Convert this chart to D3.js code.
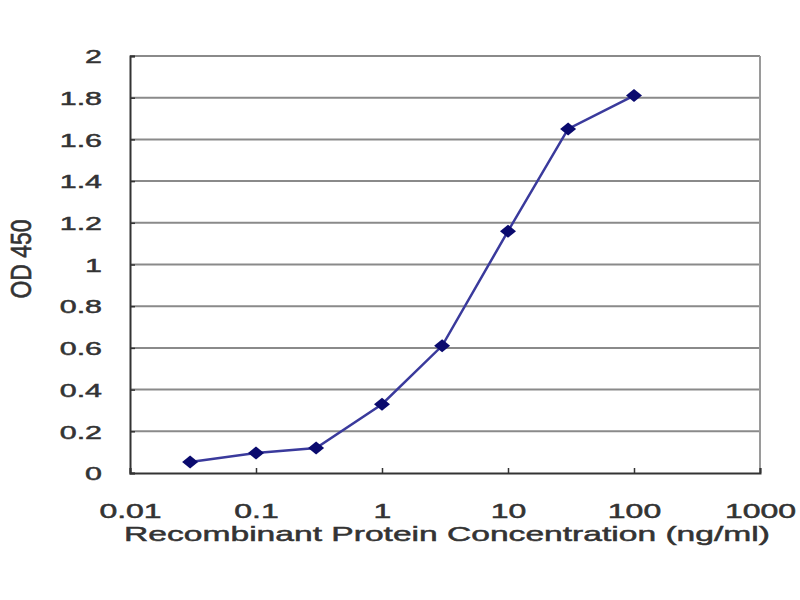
<!DOCTYPE html>
<html>
<head>
<meta charset="utf-8">
<script src="https://cdn.jsdelivr.net/npm/d3@7"></script>
<style>
  body { margin: 0; background: #fff; }
  text { font-family: "Liberation Sans", Arial, sans-serif; fill: #333; stroke: #333; stroke-width: 0.5px; }
</style>
</head>
<body>
<svg id="chart"></svg>
<script>
// concentrations (ng/ml) and OD readings
const concentrations = [0.03, 0.1, 0.3, 1, 3, 10, 30, 100];
const odValues = [0.053, 0.096, 0.12, 0.33, 0.61, 1.16, 1.65, 1.81];
const xTicks = [0.01, 0.1, 1, 10, 100, 1000];
const yTicks = [0, 0.2, 0.4, 0.6, 0.8, 1, 1.2, 1.4, 1.6, 1.8, 2];

const width = 800, height = 600;
const margin = { top: 56, right: 40, bottom: 127, left: 130 };
const stretch = 1.6; // picture is squashed wide, text too

const svg = d3.select('#chart')
    .attr('width', width)
    .attr('height', height);

const x = d3.scaleLog()
    .domain([0.01, 1000])
    .range([margin.left, width - margin.right]);
const y = d3.scaleLinear()
    .domain([0, 2])
    .range([height - margin.bottom, margin.top]);

// grid lines
svg.append('g')
    .selectAll('line')
    .data(yTicks.filter(d => d > 0))
    .enter()
    .append('line')
    .attr('x1', margin.left)
    .attr('x2', width - margin.right)
    .attr('y1', d => y(d))
    .attr('y2', d => y(d))
    .attr('stroke', '#8a8a8a')
    .attr('stroke-width', 2);

// right border
svg.append('line')
    .attr('x1', width - margin.right).attr('x2', width - margin.right)
    .attr('y1', margin.top).attr('y2', height - margin.bottom)
    .attr('stroke', '#9a9a9a')
    .attr('stroke-width', 2);

// y axis
const yAxis = svg.append('g')
    .attr('transform', `translate(${margin.left},0)`)
    .call(d3.axisLeft(y).tickValues(yTicks).tickSize(-5).tickFormat(d3.format('~g')));
yAxis.select('.domain').attr('stroke', '#333').attr('stroke-width', 2);
yAxis.selectAll('.tick line').attr('stroke', '#333').attr('stroke-width', 1.5);
yAxis.selectAll('.tick text')
    .attr('x', 0).attr('dy', 0)
    .attr('dominant-baseline', 'central')
    .style('font-size', '19px')
    .attr('transform', `translate(-28,0) scale(${stretch},1)`);

// x axis
const xAxis = svg.append('g')
    .attr('transform', `translate(0,${height - margin.bottom})`)
    .call(d3.axisBottom(x).tickValues(xTicks).tickSize(-5).tickFormat(d3.format('~g')));
xAxis.select('.domain').attr('stroke', '#333').attr('stroke-width', 2);
xAxis.selectAll('.tick line').attr('stroke', '#333').attr('stroke-width', 1.5);
xAxis.selectAll('.tick text')
    .attr('y', 0).attr('dy', 0)
    .attr('dominant-baseline', 'central')
    .style('font-size', '20px')
    .attr('transform', `translate(0,38) scale(${stretch},1)`);

// axis titles
svg.append('text')
    .attr('text-anchor', 'middle')
    .style('font-size', '21px')
    .attr('transform', `translate(447,541) scale(1.6,1)`)
    .text('Recombinant Protein Concentration (ng/ml)');

svg.append('text')
    .attr('text-anchor', 'middle')
    .style('font-size', '23px')
    .attr('transform', `translate(31,259) rotate(-90) scale(1,1.3)`)
    .text('OD 450');

// curve
const line = d3.line()
    .x((d, i) => x(concentrations[i]))
    .y(d => y(d));

svg.append('path')
    .datum(odValues)
    .attr('d', line)
    .attr('fill', 'none')
    .attr('stroke', '#3a3a9c')
    .attr('stroke-width', 2.5);

svg.append('g')
    .selectAll('path')
    .data(odValues)
    .enter()
    .append('path')
    .attr('d', 'M-8,0L0,-6.5L8,0L0,6.5Z')
    .attr('transform', (d, i) => `translate(${x(concentrations[i])},${y(d)})`)
    .attr('fill', '#0a0a6e');
</script>
</body>
</html>
